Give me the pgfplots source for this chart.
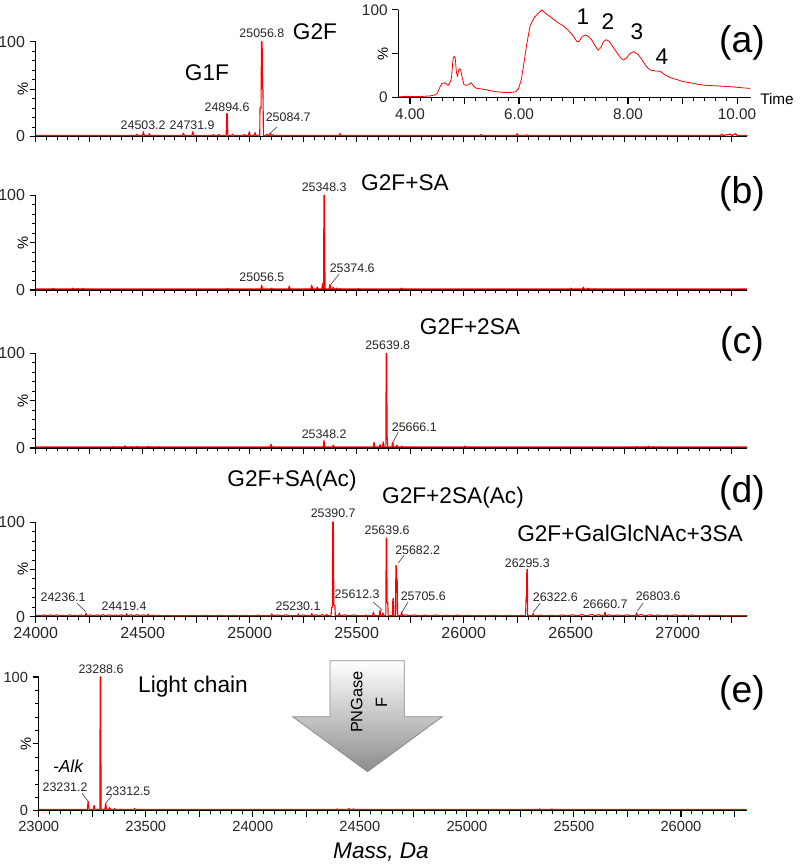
\documentclass[border=0pt]{standalone}
\usepackage{fontspec}
\setmainfont{Liberation Sans}
\usepackage{pgfplots}
\pgfplotsset{compat=1.18}
\pgfplotsset{
  spec/.style={
    scale only axis, clip=false, anchor=south west,
    axis x line*=bottom, axis y line*=left,
    tick pos=left, tick align=outside,
    ymin=0, ymax=100,
    ytick={0,50,100}, yticklabels={0,,100},
    minor y tick num=4, minor x tick num=4,
    major tick length=4.5pt, minor tick length=2.6pt,
    axis line style={black, line width=1.1pt},
    tick style={black, line width=0.8pt},
    minor tick style={line width=0.6pt},
    tick label style={font=\fontsize{12}{14}\selectfont, text=black!85},
    scaled x ticks=false, scaled y ticks=false,
    /pgf/number format/assume math mode=true,
    ylabel={\%},
    every axis y label/.style={at={(axis description cs:0,0.5)}, xshift=-9.75pt, rotate=90, anchor=center, font=\fontsize{11}{12}\selectfont},
  },
  nolab/.style={xticklabels={,,,,,,,,,,,,,,,}},
  specline/.style={red, line width=0.85pt, line join=round, mark=none},
}
\tikzset{
  plab/.style={font=\fontsize{9.3}{11}\selectfont, text=black!85, inner sep=0pt},
  lead/.style={black!70, line width=0.5pt},
  ann/.style={font=\fontsize{17}{20}\selectfont, inner sep=0pt},
  pan/.style={font=\fontsize{28}{32}\selectfont, inner sep=0pt},
}
\begin{document}
\begin{tikzpicture}
\path[use as bounding box] (0,0) rectangle (600pt,650.25pt);

% ---------------- (a) ----------------
\begin{axis}[spec, nolab, at={(26.78pt,547.9pt)}, width=533.5pt, height=71pt,
  xmin=24000, xmax=27324, xtick={24000,24250,...,27250}]
\addplot[specline] coordinates {
(24000,1)(24470,1)(24472,2.5)(24476,1)(24499,1)(24503,5)(24507,1)(24527,1)(24531,3)(24535,1)
(24686,1)(24690,3.5)(24694,1)(24730,1)(24734,5)(24738,1)(24826,1)(24830,2)(24834,1)
(24852,1)(24856,2)(24860,1)(24890,1)(24893,24)(24895,24)(24898,1)(24916,1)(24920,2.5)(24924,1)
(24971,1)(24975,2)(24979,1)(24994,1)(24998,5)(25002,1)(25021,1)(25025,4)(25029,1)
(25047,1)(25048,30)(25053,30)(25055,100)(25058,100)(25060,50)(25062,50)(25064,1)
(25076,1)(25080,2.5)(25084,1)(25094,1)(25098,3)(25102,1)(25106,1)(25110,2)(25114,1)
(25418,1)(25422,3)(25426,1)(26077,1)(26081,2)(26085,1)(26246,1)(26250,3)(26254,1)
(26290,1)(26294,1.8)(26298,1)(27200,1)(27205,2.5)(27210,1)(27225,1.5)(27245,2.5)(27255,1)
(27270,3)(27278,1)(27324,1)};
\node[plab] at (axis cs:24502,12.1) {24503.2};
\node[plab] at (axis cs:24731,12.1) {24731.9};
\node[plab] at (axis cs:24894,31.2) {24894.6};
\node[plab] at (axis cs:25057,109.3) {25056.8};
\node[plab] at (axis cs:25180,20.6) {25084.7};
\draw[lead] (axis cs:25128,10) -- (axis cs:25086,1.6);
\end{axis}

% inset chromatogram
\begin{axis}[spec, at={(298.7pt,577pt)}, width=264.3pt, height=65.8pt,
  xmin=3.785, xmax=10.25, xtick={4,5,...,10}, xticklabels={4.00,,6.00,,8.00,,10.00},
  minor y tick num=0,
  tick label style={font=\fontsize{11.5}{13}\selectfont, text=black!85},
  every axis y label/.style={at={(axis description cs:0,0.5)}, xshift=-11.5pt, rotate=90, anchor=center, font=\fontsize{11}{12}\selectfont}]
\addplot[red, line width=0.6pt, line join=round, mark=none] coordinates {
(3.80,1)(3.95,1.5)(4.10,1.2)(4.25,1.5)(4.37,2)(4.45,3)(4.50,5)(4.55,12)(4.58,16)(4.64,17)
(4.70,14)(4.74,18)(4.76,22)(4.79,44)(4.81,47)(4.83,45)(4.85,30)(4.87,24)(4.90,33)(4.93,32)
(4.96,22)(4.99,15)(5.04,14)(5.08,15)(5.12,17)(5.16,14)(5.20,11)(5.30,10)(5.40,9)(5.55,7)
(5.71,6)(5.85,6)(5.93,6.5)(5.99,10)(6.04,20)(6.08,35)(6.14,60)(6.20,81)(6.25,88)(6.29,92)
(6.35,96)(6.42,100)(6.47,97)(6.51,95)(6.60,91)(6.70,86)(6.81,82)(6.90,77)(7.00,70)(7.06,64)
(7.10,64)(7.15,69)(7.21,71.5)(7.27,70)(7.33,66)(7.40,59)(7.45,54)(7.50,57)(7.55,64)(7.60,66)
(7.66,64)(7.72,58)(7.80,51)(7.87,45)(7.91,43)(7.97,45)(8.03,50)(8.10,52.5)(8.19,49)(8.27,42)
(8.33,36)(8.40,31.6)(8.50,30.5)(8.59,30)(8.68,26)(8.77,23)(8.90,20.5)(9.00,18.5)(9.14,17)
(9.30,15)(9.44,14)(9.60,13.5)(9.87,12.5)(10.05,11.5)(10.24,10.5)};
\end{axis}

% ---------------- (b) ----------------
\begin{axis}[spec, nolab, at={(26.78pt,432.75pt)}, width=533.5pt, height=71pt,
  xmin=24000, xmax=27324, xtick={24000,24250,...,27250}]
\addplot[specline] coordinates {
(24000,1)(24078,1)(24082,1.8)(24086,1)(24170,1)(24174,2)(24178,1)(24192,1)(24196,1.8)(24200,1)
(24218,1)(24222,1.8)(24226,1)(24893,1)(24897,1.8)(24901,1)(25052,1)(25056,5)(25060,1)
(25099,1)(25103,2)(25107,1)(25181,1)(25185,4)(25189,1)(25286,1)(25290,5)(25294,1)
(25312,1)(25316,3)(25320,1)(25337,1)(25341,7)(25344,1)(25345,1)(25347,100)(25349,100)(25350,72)(25352,1)
(25371,1)(25375,6)(25379,1)(25386,1)(25390,3)(25394,1)(25402,1)(25406,2)(25410,1)
(25418,1)(25422,1.5)(25426,1)(25504,1)(25508,1.5)(25512,1)(25706,1)(25710,2)(25714,1)
(26496,1)(26500,2)(26504,1)(26555,1)(26559,3)(26563,1)(26578,1)(26582,2)(26586,1)
(26609,1)(26613,1.5)(26617,1)(27324,1)};
\node[plab] at (axis cs:25348,108.8) {25348.3};
\node[plab] at (axis cs:25057,13.7) {25056.5};
\node[plab] at (axis cs:25479,23.2) {25374.6};
\draw[lead] (axis cs:25418,16.9) -- (axis cs:25381,6.3);
\end{axis}

% ---------------- (c) ----------------
\begin{axis}[spec, nolab, at={(26.78pt,314.25pt)}, width=533.5pt, height=71pt,
  xmin=24000, xmax=27324, xtick={24000,24250,...,27250}]
\addplot[specline] coordinates {
(24000,1)(24359,1)(24363,1.5)(24367,1)(24413,1)(24417,2.2)(24421,1)(24444,1)(24448,1.5)(24452,1)
(24471,1)(24475,1.8)(24479,1)(24522,1)(24526,1.8)(24530,1)(24569,1)(24573,1.3)(24577,1)
(25096,1)(25100,4)(25104,1)(25343,1)(25347,8)(25351,1)(25387,1)(25391,3)(25395,1)
(25577,1)(25581,6)(25585,1)(25605,1)(25609,3.5)(25613,1)(25620,1)(25624,6.5)(25628,1)
(25636,1)(25638,100)(25640,100)(25642,12)(25645,1)(25664,1)(25668,6)(25672,1)
(25683,1)(25687,3)(25691,1)(25706,1)(25710,2)(25714,1)(26002,1)(26006,2)(26010,1)
(26804,1)(26808,1.5)(26812,1)(26859,1)(26863,2)(26867,1)(26882,1)(26886,1.5)(26890,1)
(26913,1)(26917,1.3)(26921,1)(27324,1)};
\node[plab] at (axis cs:25645,108.8) {25639.8};
\node[plab] at (axis cs:25348,14.8) {25348.2};
\node[plab] at (axis cs:25769,22.2) {25666.1};
\draw[lead] (axis cs:25694,16.9) -- (axis cs:25670,6.3);
\end{axis}

% ---------------- (d) ----------------
\begin{axis}[spec, at={(26.78pt,187.7pt)}, width=533.5pt, height=71pt,
  xmin=24000, xmax=27324, xtick={24000,24250,...,27250},
  xticklabels={24000,,24500,,25000,,25500,,26000,,26500,,27000,}]
\addplot[specline] coordinates {
(24000,1.5)(24030,1)(24040,2)(24050,1)(24070,1.8)(24080,1)(24100,2)(24110,1)(24130,1.5)(24140,1)
(24160,2)(24170,1)(24185,1.6)(24195,1)(24210,2)(24220,1)(24231,1)(24235,3.6)(24239,1)
(24255,1.8)(24270,1)(24290,2)(24300,1)(24315,2.2)(24325,1)(24345,2)(24355,1)(24375,1.8)(24385,1)
(24400,2)(24410,1)(24421,1)(24425,3.2)(24429,1)(24445,2)(24455,1)(24475,2.2)(24485,1)
(24505,2)(24515,1)(24522,1)(24526,2.8)(24530,1)(24550,1.6)(24560,1)(24580,1.5)(24590,1)
(24620,1.5)(24630,1)(24700,1)(24730,1.4)(24760,1)(24800,1.5)(24830,1)(24860,1.4)(24890,1)
(24920,1.5)(24950,1)(24980,1.4)(25010,1)(25040,1.6)(25060,1)(25099,1)(25103,3)(25107,1)
(25130,1.8)(25150,1)(25170,2)(25190,1)(25223,1)(25227,3)(25231,1)(25250,1.8)(25270,1)
(25286,1)(25290,3.5)(25294,1)(25310,2)(25325,1)(25340,2.2)(25350,1)(25356,1)(25360,2.5)(25364,1)
(25380,1)(25383,10)(25386,10)(25388,100)(25391,100)(25393,12)(25398,12)(25400,1)
(25415,1)(25419,4)(25423,1)(25445,2)(25460,1)(25490,1.8)(25510,1)(25538,1)(25542,2)(25546,1)
(25574,1)(25578,5)(25582,1)(25605,1)(25609,7)(25613,1)(25619,1)(25623,4)(25627,1)
(25636,1)(25638,83)(25640,83)(25642,15)(25645,15)(25647,1)
(25667,1)(25669,19)(25672,19)(25674,1)(25682,1)(25683,54)(25685,54)(25687,40)(25689,40)(25691,1)
(25706,1)(25710,5)(25714,1)(25730,2)(25745,1)(25770,1.8)(25790,1)(25820,1.6)(25840,1)
(25870,1.8)(25890,1)(25920,1.5)(25940,1)(25970,1.6)(25990,1)(26020,1.5)(26040,1)(26080,1.4)
(26100,1)(26150,1.5)(26170,1)(26220,1.4)(26240,1)(26270,1.3)
(26289,1)(26292,22)(26294,22)(26295,50)(26297,50)(26299,1)(26321,1)(26325,3.5)(26329,1)
(26360,1.6)(26380,1)(26410,1.5)(26430,1)(26460,1.8)(26480,1)(26510,2)(26530,1)(26555,2.2)(26570,1)
(26600,2.3)(26615,1)(26630,2.2)(26645,1)(26656,1)(26660,5)(26664,1)(26680,2)(26695,1)
(26720,1.8)(26740,1)(26765,2)(26780,1)(26804,1)(26808,4)(26812,1)(26830,2.5)(26845,1)
(26870,2)(26885,1)(26910,1.8)(26925,1)(26950,1.6)(26965,1)(26990,2)(27005,1)(27030,1.6)(27045,1)
(27070,1.8)(27085,1)(27130,1.2)(27190,1.5)(27220,1)(27324,1)};
\node[plab] at (axis cs:25390,109.5) {25390.7};
\node[plab] at (axis cs:25642,91.6) {25639.6};
\node[plab] at (axis cs:25785,70.4) {25682.2};
\draw[lead] (axis cs:25722,65.1) -- (axis cs:25694,56.7);
\node[plab] at (axis cs:24128,20.8) {24236.1};
\draw[lead] (axis cs:24193,14.4) -- (axis cs:24235,4.9);
\node[plab] at (axis cs:24413,11.3) {24419.4};
\node[plab] at (axis cs:25226,11.3) {25230.1};
\node[plab] at (axis cs:25502,24.0) {25612.3};
\draw[lead] (axis cs:25577,15.5) -- (axis cs:25619,7.1);
\node[plab] at (axis cs:25811,21.9) {25705.6};
\draw[lead] (axis cs:25740,15.5) -- (axis cs:25712,5.0);
\node[plab] at (axis cs:26297,56.7) {26295.3};
\node[plab] at (axis cs:26428,20.8) {26322.6};
\draw[lead] (axis cs:26358,14.4) -- (axis cs:26325,4.9);
\node[plab] at (axis cs:26661,13.4) {26660.7};
\node[plab] at (axis cs:26909,21.9) {26803.6};
\draw[lead] (axis cs:26839,14.5) -- (axis cs:26811,6.0);
\end{axis}

% ---------------- (e) ----------------
\begin{axis}[spec, at={(29.03pt,42.2pt)}, width=531pt, height=100.3pt,
  xmin=23000, xmax=26307, xtick={23000,23250,...,26250},
  xticklabels={23000,,23500,,24000,,24500,,25000,,25500,,26000,},
  tick label style={font=\fontsize{11}{12}\selectfont, text=black!85}]
\addplot[specline] coordinates {
(23000,1)(23227,1)(23231,7)(23235,1)(23255,1)(23259,4)(23263,1)(23286,1)(23287,100)(23290,100)(23291,1)
(23309,1)(23313,5.5)(23317,1)(23327,1)(23331,2.5)(23335,1)(23351,1)(23355,1.6)(23359,1)
(23444,1)(23448,1.6)(23452,1)(24390,1)(24394,1.4)(24398,1)(24445,1)(24449,1.8)(24453,1)
(24466,1)(24470,1.4)(24474,1)(25336,1)(25340,1.4)(25344,1)(25393,1)(25397,1.3)(25401,1)(26307,1)};
\node[plab] at (axis cs:23291,106) {23288.6};
\node[plab] at (axis cs:23123,17.7) {23231.2};
\draw[lead] (axis cs:23202,13.2) -- (axis cs:23230,7.3);
\node[plab] at (axis cs:23417,14.7) {23312.5};
\draw[lead] (axis cs:23342,11.5) -- (axis cs:23314,5.8);
\end{axis}

% ---------------- annotations ----------------
\begin{scope}[x=0.75pt,y=-0.75pt,yshift=650.25pt]
\node[ann] at (207,73) {G1F};
\node[ann] at (315,32) {G2F};
\node[ann] at (583,17) {1};
\node[ann] at (608,22) {2};
\node[ann] at (637,32) {3};
\node[ann] at (662,57) {4};
\node[font=\fontsize{11.5}{13}\selectfont, inner sep=0pt] at (777,99) {Time};
\node[ann] at (405,183) {G2F+SA};
\node[ann] at (470,327) {G2F+2SA};
\node[ann] at (292,481) {G2F+SA(Ac)};
\node[ann] at (453,498) {G2F+2SA(Ac)};
\node[ann] at (630,533) {G2F+GalGlcNAc+3SA};
\node[ann] at (193,687) {Light chain};
\node[font=\fontsize{13}{15}\selectfont\itshape, inner sep=0pt] at (68,766) {-Alk};
\node[ann, font=\fontsize{17}{20}\selectfont\itshape] at (381,852) {Mass, Da};
\node[pan] at (742,43) {(a)};
\node[pan] at (742,194) {(b)};
\node[pan] at (742,344) {(c)};
\node[pan] at (742,493) {(d)};
\node[pan] at (742,693) {(e)};
\shade[top color=white, bottom color=black!45, draw=black!45, line width=0.6pt]
  (330,660.7) -- (404.3,660.7) -- (404.3,716.7) -- (442.3,716.7) -- (367.5,771.7)
  -- (292.7,716.7) -- (330,716.7) -- cycle;
\node[rotate=90, align=center, font=\fontsize{12.3}{18.5}\selectfont, inner sep=0pt] at (369,702) {PNGase\\F};
\end{scope}
\end{tikzpicture}
\end{document}
